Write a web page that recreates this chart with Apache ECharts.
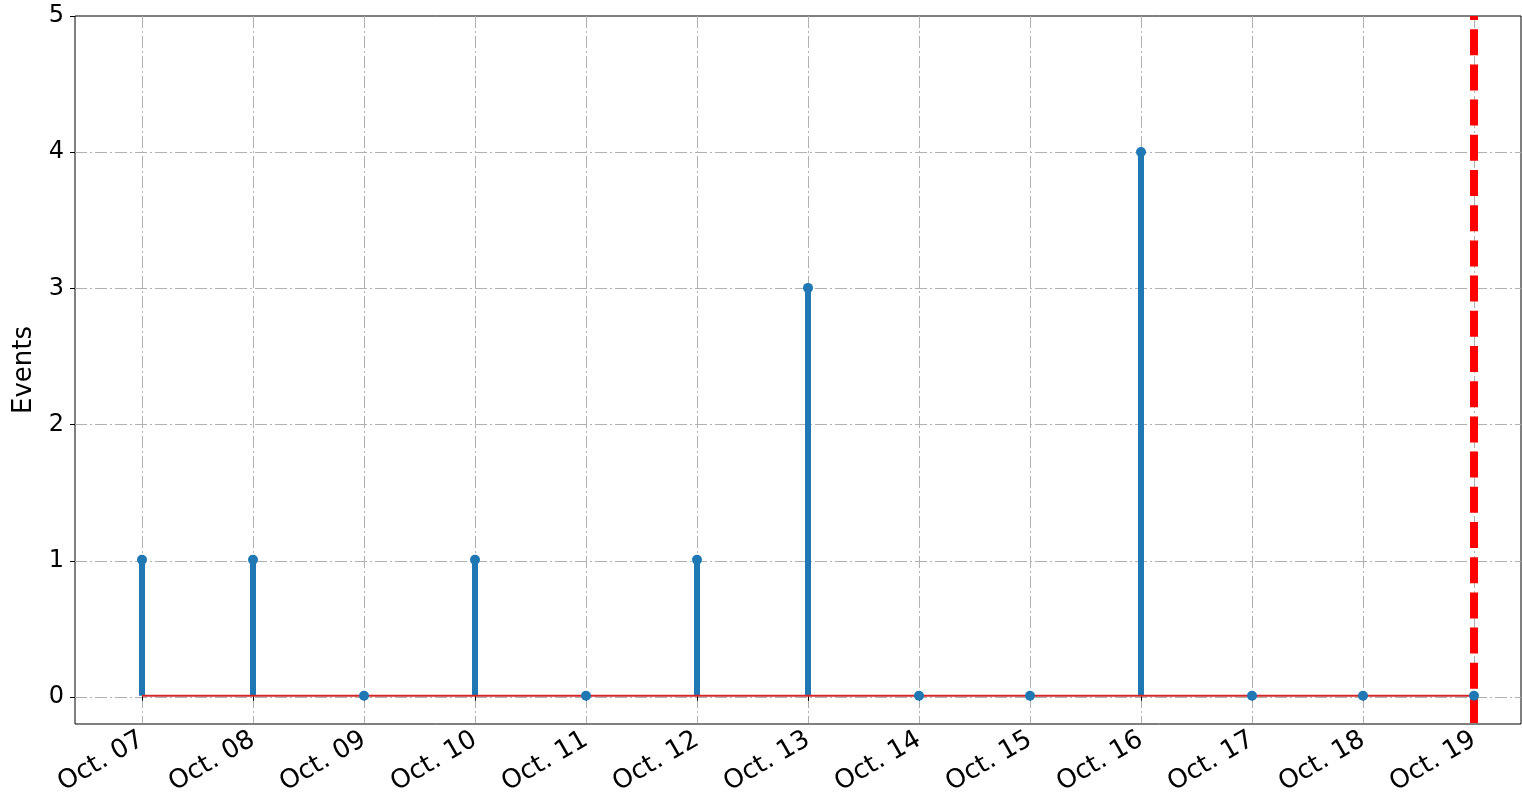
<!DOCTYPE html>
<html>
<head>
<meta charset="utf-8">
<script src="https://cdn.jsdelivr.net/npm/echarts@6/dist/echarts.min.js"></script>
<style>
  html, body { margin: 0; padding: 0; background: #fff; }
  #chart { width: 1522px; height: 798px; }
</style>
</head>
<body>
<div id="chart"></div>
<script>
var days = ['Oct. 07', 'Oct. 08', 'Oct. 09', 'Oct. 10', 'Oct. 11', 'Oct. 12', 'Oct. 13',
            'Oct. 14', 'Oct. 15', 'Oct. 16', 'Oct. 17', 'Oct. 18', 'Oct. 19'];
var events = [1, 1, 0, 1, 0, 1, 3, 0, 0, 4, 0, 0, 0];
var yTicks = [0, 1, 2, 3, 4, 5];
var todayIndex = 12;

var myChart = echarts.init(document.getElementById('chart'));

var points = [];
for (var i = 0; i < events.length; i++) {
	points.push([i, events[i]]);
}

var gridLine = { color: '#b0b0b0', width: 1, type: [12, 3, 2, 3] };

myChart.setOption({
	animation: false,
	textStyle: { fontFamily: 'DejaVu Sans' },
	grid: [
		// data grid, x from first to last day
		{ left: 142, right: 48, top: 16, bottom: 74 },
		// y labels, 0 to 5
		{ left: 75, right: 1, top: 16, bottom: 101 },
		// frame
		{ left: 75, right: 1, top: 16, bottom: 74, show: true, borderColor: '#000', borderWidth: 1 }
	],
	xAxis: [
		{
			gridIndex: 0, type: 'value', min: 0, max: days.length - 1, interval: 1,
			axisLine: { show: false },
			axisTick: { show: true, length: 5, lineStyle: { color: '#000' } },
			axisLabel: {
				rotate: 30, fontSize: 26, color: '#000', margin: 15,
				formatter: function(v) { return days[v] || ''; }
			},
			splitLine: { show: true, lineStyle: gridLine }
		},
		{ gridIndex: 1, type: 'value', min: 0, max: 1, show: false },
		{ gridIndex: 2, type: 'value', min: 0, max: 1, show: false }
	],
	yAxis: [
		{ gridIndex: 0, type: 'value', min: -0.2, max: 5, show: false },
		{
			gridIndex: 1, type: 'value', min: yTicks[0], max: yTicks[yTicks.length - 1], interval: 1,
			axisLine: { show: false },
			axisTick: { show: true, length: 5, lineStyle: { color: '#000' } },
			axisLabel: { fontSize: 24, color: '#000', margin: 11 },
			splitLine: { show: true, showMaxLine: false, lineStyle: gridLine }
		},
		{
			gridIndex: 2, type: 'value', min: -0.2, max: 5,
			axisLine: { show: false }, axisTick: { show: false },
			axisLabel: { show: false }, splitLine: { show: false },
			name: 'Events', nameLocation: 'middle', nameGap: 38,
			nameTextStyle: { fontSize: 26, color: '#000' }
		}
	],
	series: [
		{
			type: 'bar',
			xAxisIndex: 0, yAxisIndex: 0,
			data: points,
			barWidth: 6,
			itemStyle: { color: '#1f77b4' },
			z: 2
		},
		{
			type: 'line',
			xAxisIndex: 0, yAxisIndex: 0,
			data: [[0, 0], [days.length - 1, 0]],
			symbol: 'none',
			lineStyle: { color: '#d62728', width: 2 },
			z: 3
		},
		{
			type: 'line',
			xAxisIndex: 0, yAxisIndex: 0,
			data: [[todayIndex, 5], [todayIndex, -0.2]],
			symbol: 'none',
			lineStyle: { color: '#ff0000', width: 8, type: [26, 9.2], dashOffset: 22 },
			z: 4
		},
		{
			type: 'scatter',
			xAxisIndex: 0, yAxisIndex: 0,
			data: points,
			symbolSize: 10,
			itemStyle: { color: '#1f77b4', opacity: 1 },
			z: 5
		}
	]
});
</script>
</body>
</html>
